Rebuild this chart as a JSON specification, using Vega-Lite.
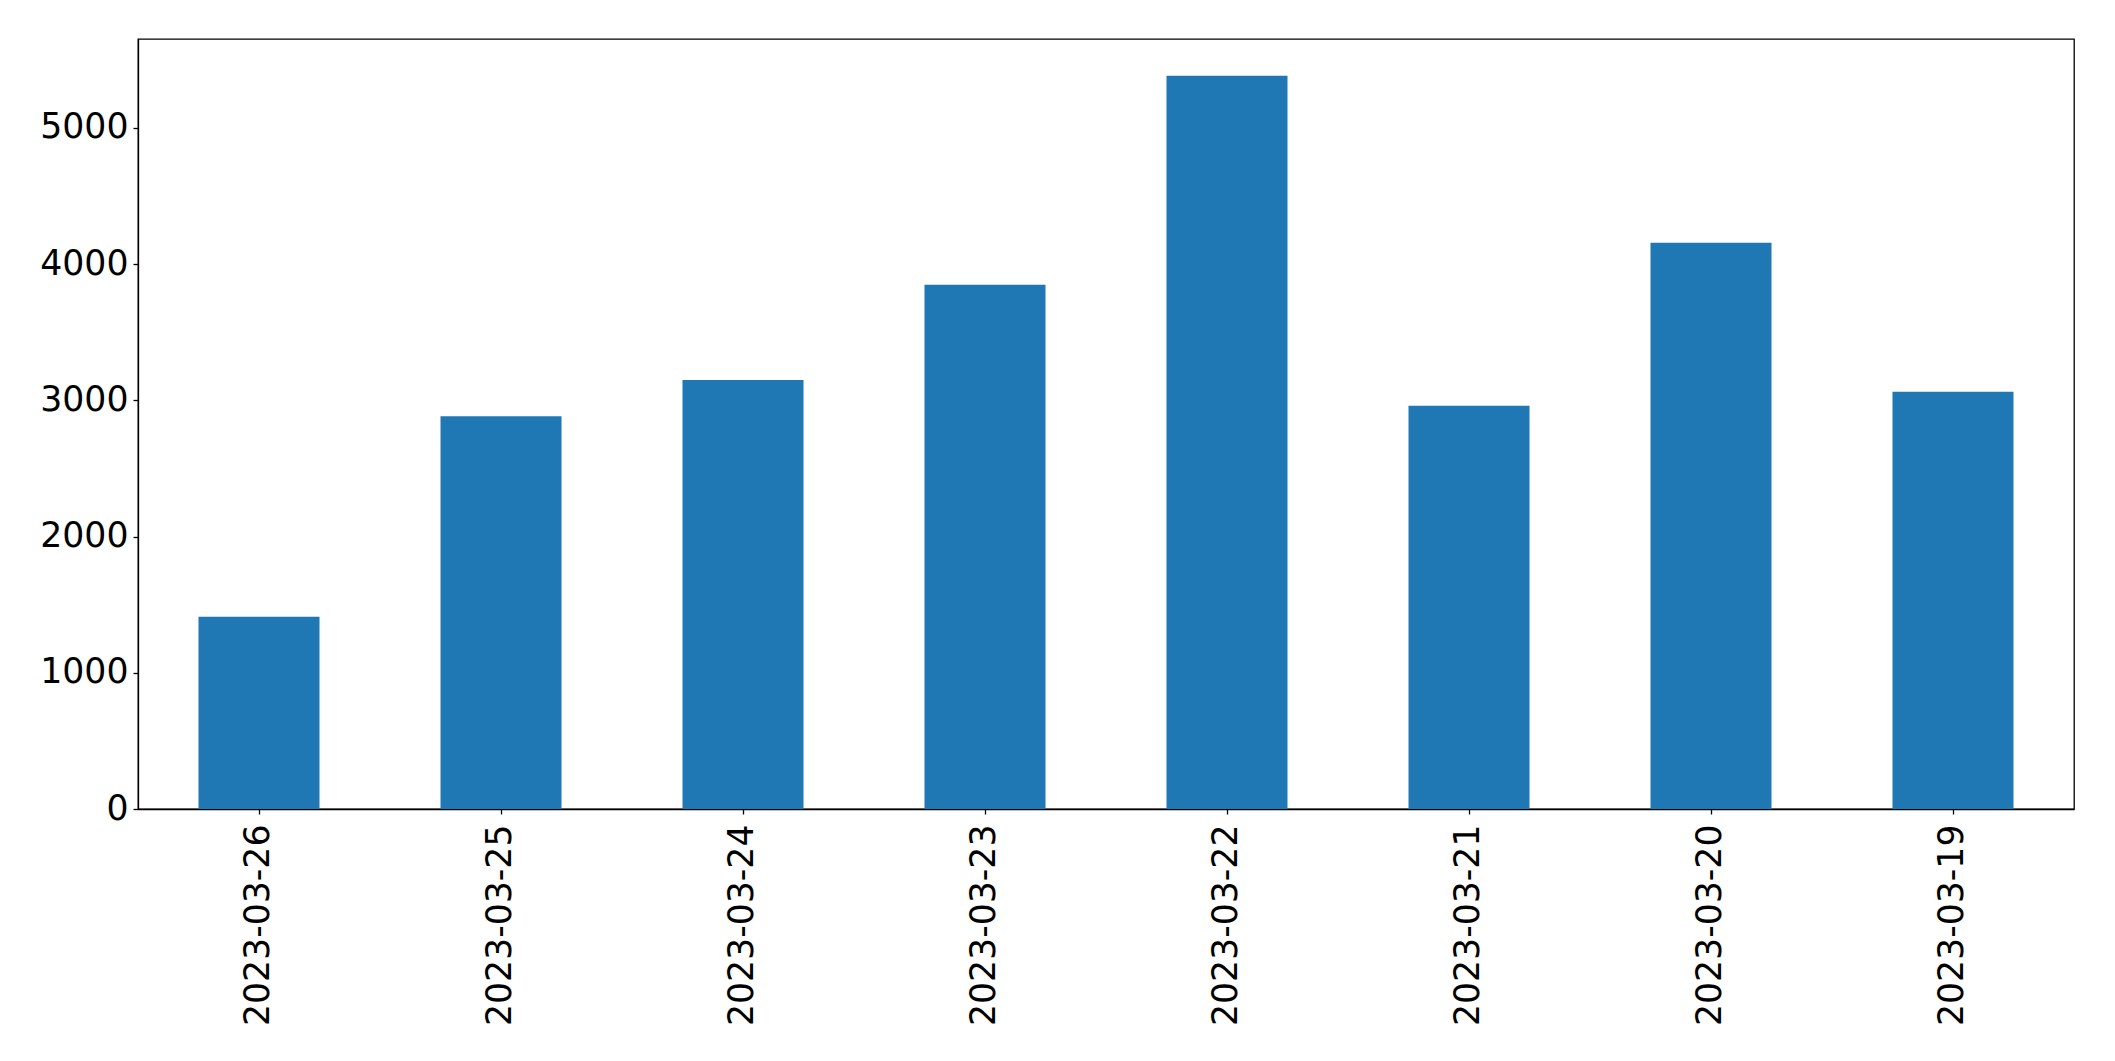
{
  "$schema": "https://vega.github.io/schema/vega-lite/v6.json",
  "width": 1936,
  "height": 770,
  "autosize": {"type": "none"},
  "padding": {"left": 138, "top": 39, "right": 41, "bottom": 252},
  "background": "white",
  "config": {
    "view": {"stroke": "black", "strokeWidth": 1.3},
    "font": "DejaVu Sans"
  },
  "data": {
    "values": [
      {"date": "2023-03-26", "count": 1412},
      {"date": "2023-03-25", "count": 2883},
      {"date": "2023-03-24", "count": 3150},
      {"date": "2023-03-23", "count": 3849},
      {"date": "2023-03-22", "count": 5384},
      {"date": "2023-03-21", "count": 2961},
      {"date": "2023-03-20", "count": 4158},
      {"date": "2023-03-19", "count": 3064}
    ]
  },
  "mark": {"type": "bar", "color": "#1f77b4"},
  "encoding": {
    "x": {
      "field": "date",
      "type": "nominal",
      "sort": null,
      "scale": {"paddingInner": 0.5, "paddingOuter": 0.25},
      "axis": {
        "title": null,
        "labelAngle": -90,
        "labelFontSize": 34.7,
        "labelLimit": 0,
        "labelColor": "black",
        "labelFont": "DejaVu Sans",
        "labelPadding": 10,
        "tickColor": "black",
        "tickSize": 5,
        "tickWidth": 1.3,
        "domainColor": "black",
        "domainWidth": 1.3,
        "grid": false
      }
    },
    "y": {
      "field": "count",
      "type": "quantitative",
      "scale": {"domain": [0, 5653], "nice": false, "zero": true},
      "axis": {
        "title": null,
        "values": [0, 1000, 2000, 3000, 4000, 5000],
        "labelFontSize": 34.7,
        "labelColor": "black",
        "labelFont": "DejaVu Sans",
        "labelPadding": 5,
        "tickColor": "black",
        "tickSize": 5,
        "tickWidth": 1.3,
        "domainColor": "black",
        "domainWidth": 1.3,
        "grid": false,
        "format": "d"
      }
    }
  }
}
